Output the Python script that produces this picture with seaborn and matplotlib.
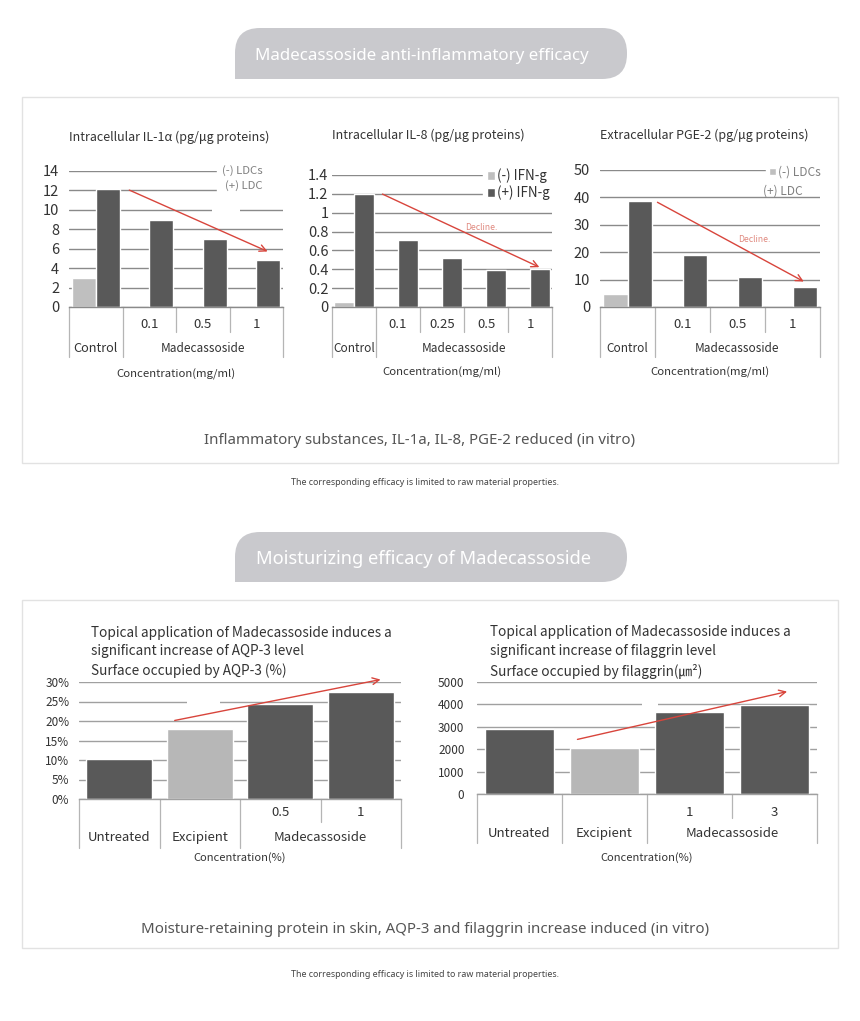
import matplotlib
matplotlib.use('Agg')
import matplotlib.pyplot as plt
from matplotlib.patches import FancyBboxPatch, Rectangle, Patch
import numpy as np
import pandas as pd
import seaborn as sns

sns.set_theme(style='white')
plt.rcParams['font.family'] = ['Noto Sans CJK KR', 'DejaVu Sans']

W, H = 860, 1021
dark = '#595959'
light = '#bfbfbf'
light2 = '#b7b7b7'
red = '#d8453c'
grid_c = '#8a8a8a'
sep_c = '#b5b5b5'
txt_c = '#333333'
pill_c = '#c9c9cd'

# ---- data ----
il1a_groups = ['Control', '0.1', '0.5', '1']
il1a_minus = [3.0, 0, 0, 0]
il1a_plus = [12.1, 9.0, 7.0, 4.8]

il8_groups = ['Control', '0.1', '0.25', '0.5', '1']
il8_minus = [0.05, 0, 0, 0, 0]
il8_plus = [1.2, 0.71, 0.52, 0.39, 0.40]

pge2_groups = ['Control', '0.1', '0.5', '1']
pge2_minus = [4.8, 0, 0, 0]
pge2_plus = [38.6, 19.0, 10.8, 7.2]

aqp3_groups = ['Untreated', 'Excipient', '0.5', '1']
aqp3_vals = [0.102, 0.180, 0.243, 0.274]

fil_groups = ['Untreated', 'Excipient', '1', '3']
fil_vals = [2920, 2060, 3650, 3990]

fig = plt.figure(figsize=(W / 100, H / 100), dpi=100)
fig.patch.set_facecolor('white')

# background layer in pixel units
bg = fig.add_axes([0, 0, 1, 1])
bg.set_xlim(0, W)
bg.set_ylim(H, 0)
bg.axis('off')
sans = ['Noto Sans', 'DejaVu Sans']


def pill(y0, h, text, fs, xc):
    x0, x1 = 235, 627
    bg.add_patch(FancyBboxPatch((x0, y0), x1 - x0, h, boxstyle='round,pad=0,rounding_size=25',
                                fc=pill_c, ec='none'))
    bg.add_patch(Rectangle((x0, y0 + h / 2), 30, h / 2, fc=pill_c, ec='none'))
    bg.text(xc, y0 + h / 2 + 2, text, color='white', fontsize=fs, ha='center', va='center', family=sans)


pill(28, 51, 'Madecassoside anti-inflammatory efficacy', 12.2, 422)
pill(532, 50, 'Moisturizing efficacy of Madecassoside', 13.2, 424)
bg.add_patch(Rectangle((22, 97), 816, 366, fc='white', ec='#e2e2e2', lw=1))
bg.add_patch(Rectangle((22, 600), 816, 348, fc='white', ec='#e2e2e2', lw=1))
bg.text(420, 440, 'Inflammatory substances, IL-1a, IL-8, PGE-2 reduced (in vitro)', ha='center', va='center',
        fontsize=10.8, color='#555555', family=sans)
bg.text(425, 929, 'Moisture-retaining protein in skin, AQP-3 and filaggrin increase induced (in vitro)',
        ha='center', va='center', fontsize=10.8, color='#555555', family=sans)
for yy in (482, 974):
    bg.text(425, yy, 'The corresponding efficacy is limited to raw material properties.', ha='center',
            va='center', fontsize=6.4, color='#444444', family=sans)


def px_axes(box):
    l, t, r, b = box
    ax = fig.add_axes([l / W, 1 - b / H, (r - l) / W, (b - t) / H])
    ax.patch.set_alpha(0)
    return ax


def fy(box, y):
    l, t, r, b = box
    return (b - y) / (b - t)


def fx(box, x):
    l, t, r, b = box
    return (x - l) / (r - l)


def style_axes(ax, n, yticks, ylabels, pad, fs, gc):
    ax.set_xlim(-0.5, n - 0.5)
    ax.set_ylim(yticks[0], yticks[-1])
    ax.set_yticks(yticks)
    ax.set_yticklabels(ylabels)
    ax.set_xticks([])
    ax.set_xlabel('')
    ax.set_ylabel('')
    ax.tick_params(axis='y', length=0, pad=pad, labelsize=fs, labelcolor=txt_c)
    for s in ['left', 'right', 'top']:
        ax.spines[s].set_visible(False)
    ax.spines['bottom'].set_color(gc)
    ax.spines['bottom'].set_linewidth(1)
    ax.yaxis.grid(True, color=gc, lw=1)
    ax.set_axisbelow(True)


def gap(ax, box, x0, x1, y0, y1):
    # small white patches that interrupt the gridlines in the source image
    ax.add_patch(Rectangle((fx(box, x0), fy(box, y1)), fx(box, x1) - fx(box, x0), fy(box, y0) - fy(box, y1),
                           transform=ax.transAxes, fc='white', ec='none', zorder=0.8))


def table(ax, box, groups, n_plain, y1, y2, y_short, y_full, fs1, fs_plain, fs_name, conc, y_conc, fs_conc):
    n = len(groups)
    tr = ax.get_xaxis_transform()
    for k in range(n + 1):
        yend = y_full if (k <= n_plain or k == n) else y_short
        ax.plot([k - 0.5, k - 0.5], [0, fy(box, yend)], transform=tr, color=sep_c, lw=0.9, clip_on=False)
    for k, g in enumerate(groups):
        if k < n_plain:
            ax.text(k, fy(box, y2), g, transform=tr, ha='center', va='center', fontsize=fs_plain, color=txt_c)
        else:
            ax.text(k, fy(box, y1), g, transform=tr, ha='center', va='center', fontsize=fs1, color=txt_c)
    ax.text((n_plain + n - 1) / 2, fy(box, y2), 'Madecassoside', transform=tr, ha='center', va='center',
            fontsize=fs_name, color=txt_c)
    ax.text(0.5, fy(box, y_conc), conc, transform=ax.transAxes, ha='center', va='center',
            fontsize=fs_conc, color=txt_c)


def grouped(ax, groups, minus, plus):
    n = len(groups)
    df = pd.DataFrame({'group': groups * 2, 'value': minus + plus,
                       'series': ['minus'] * n + ['plus'] * n})
    sns.barplot(data=df, x='group', y='value', hue='series', order=groups, hue_order=['minus', 'plus'],
                palette=[light, dark], width=0.9, saturation=1, legend=False, errorbar=None, ax=ax)


def arrow(ax, start, end):
    ax.annotate('', xy=end, xytext=start, annotation_clip=False,
                arrowprops=dict(arrowstyle='->', color=red, lw=1, mutation_scale=12))


# ---- panel 1: IL-1a ----
b1 = (69, 171, 283, 307)
ax1 = px_axes(b1)
grouped(ax1, il1a_groups, il1a_minus, il1a_plus)
style_axes(ax1, 4, np.arange(0, 15, 2), [str(v) for v in range(0, 15, 2)], 7, 10.5, grid_c)
table(ax1, b1, il1a_groups, 1, 325, 349, 332, 357, 9.5, 9.2, 8.5, 'Concentration(mg/ml)', 374, 8.2)
ax1.text(0, fy(b1, 137), 'Intracellular IL-1α (pg/μg proteins)', transform=ax1.transAxes, ha='left',
         va='center', fontsize=9, color=txt_c)
h_none = Patch(fc='none', ec='none')
leg = ax1.legend([h_none, h_none], ['(-) LDCs', '(+) LDC'], loc='upper right',
                 bbox_to_anchor=(1.01, fy(b1, 161)), frameon=True, fancybox=False,
                 facecolor='white', edgecolor='white', framealpha=1, markerfirst=False,
                 handlelength=1.6, handletextpad=0, fontsize=8.2, labelspacing=0.3, borderpad=0.4,
                 borderaxespad=0)
leg._legend_box.align = 'left'
for t in leg.get_texts():
    t.set_color('#808080')
gap(ax1, b1, 212, 240, 206, 214)
arrow(ax1, (0.58, 12.15), (3.26, 5.6))

# ---- panel 2: IL-8 ----
b2 = (332, 175, 552, 307)
ax2 = px_axes(b2)
grouped(ax2, il8_groups, il8_minus, il8_plus)
style_axes(ax2, 5, np.linspace(0, 1.4, 8), ['0', '0.2', '0.4', '0.6', '0.8', '1', '1.2', '1.4'], 2.5, 10.5,
           grid_c)
table(ax2, b2, il8_groups, 1, 324, 349, 332, 357, 9.5, 8.5, 8.5, 'Concentration(mg/ml)', 372, 8.2)
ax2.text(0, fy(b2, 135), 'Intracellular IL-8 (pg/μg proteins)', transform=ax2.transAxes, ha='left',
         va='center', fontsize=9, color=txt_c)
leg = ax2.legend([Patch(fc=light), Patch(fc=dark)], ['(-) IFN-g', '(+) IFN-g'], loc='upper right',
                 bbox_to_anchor=(1.01, fy(b2, 164)), frameon=True, fancybox=False, facecolor='white',
                 edgecolor='white', framealpha=1, handlelength=0.65, handleheight=0.65, handletextpad=0.15,
                 fontsize=9.6, labelspacing=0.2, borderpad=0.3, borderaxespad=0)
for t in leg.get_texts():
    t.set_color(txt_c)
arrow(ax2, (0.59, 1.21), (4.27, 0.41))
ax2.text(2.89, 0.84, 'Decline.', ha='center', va='center', fontsize=6.2, color='#e08a80')

# ---- panel 3: PGE-2 ----
b3 = (600, 170, 820, 307)
ax3 = px_axes(b3)
grouped(ax3, pge2_groups, pge2_minus, pge2_plus)
style_axes(ax3, 4, np.arange(0, 51, 10), [str(v) for v in range(0, 51, 10)], 7, 10.5, grid_c)
table(ax3, b3, pge2_groups, 1, 324, 349, 332, 357, 9.5, 8.5, 8.5, 'Concentration(mg/ml)', 372, 8.2)
ax3.text(0, fy(b3, 135), 'Extracellular PGE-2 (pg/μg proteins)', transform=ax3.transAxes, ha='left',
         va='center', fontsize=9, color=txt_c)
leg = ax3.legend([Patch(fc=light)], ['(-) LDCs'], loc='upper right',
                 bbox_to_anchor=(1.02, fy(b3, 162)), frameon=True, fancybox=False, facecolor='white',
                 edgecolor='white', framealpha=1, handlelength=0.55, handleheight=0.55, handletextpad=0.2,
                 fontsize=8.6, borderpad=0.3, borderaxespad=0)
for t in leg.get_texts():
    t.set_color('#808080')
ax3.text(fx(b3, 783), fy(b3, 191), '(+) LDC', transform=ax3.transAxes, ha='center', va='center',
         fontsize=8.6, color='#808080')
arrow(ax3, (0.5, 38.7), (3.25, 8.8))
ax3.text(2.3, 24.8, 'Decline.', ha='center', va='center', fontsize=6.2, color='#e08a80')

# ---- panel 4: AQP-3 ----
b4 = (79, 682, 401, 799)
ax4 = px_axes(b4)
sns.barplot(x=aqp3_groups, y=aqp3_vals, hue=aqp3_groups, palette=[dark, light2, dark, dark], width=0.82,
            saturation=1, legend=False, ax=ax4)
style_axes(ax4, 4, np.linspace(0, 0.30, 7), ['0%', '5%', '10%', '15%', '20%', '25%', '30%'], 7, 8.5,
           '#a0a0a0')
table(ax4, b4, aqp3_groups, 2, 813, 837, 822, 848, 9.5, 9.5, 9.5, 'Concentration(%)', 858, 8)
ax4.text(fx(b4, 91), fy(b4, 652),
         'Topical application of Madecassoside induces a\nsignificant increase of AQP-3 level\n'
         'Surface occupied by AQP-3 (%)', transform=ax4.transAxes, ha='left', va='center',
         fontsize=9.8, color=txt_c, linespacing=1.45)
gap(ax4, b4, 187, 220, 697, 705)
arrow(ax4, (0.655, 0.20), (3.28, 0.3077))

# ---- panel 5: filaggrin ----
b5 = (477, 682, 817, 794)
ax5 = px_axes(b5)
sns.barplot(x=fil_groups, y=fil_vals, hue=fil_groups, palette=[dark, light2, dark, dark], width=0.82,
            saturation=1, legend=False, ax=ax5)
style_axes(ax5, 4, np.arange(0, 5001, 1000), [str(v) for v in range(0, 5001, 1000)], 9, 8.5, '#a0a0a0')
table(ax5, b5, fil_groups, 2, 812, 833, 818, 843, 9.5, 9.5, 9.5, 'Concentration(%)', 858, 8)
ax5.text(fx(b5, 490), fy(b5, 652),
         'Topical application of Madecassoside induces a\nsignificant increase of filaggrin level\n'
         'Surface occupied by filaggrin(㎛²)', transform=ax5.transAxes, ha='left', va='center',
         fontsize=9.8, color=txt_c, linespacing=1.45)
gap(ax5, b5, 642, 658, 700, 708)
arrow(ax5, (0.65, 2410), (3.18, 4600))

fig.savefig('out.png', dpi=100, facecolor='white')
